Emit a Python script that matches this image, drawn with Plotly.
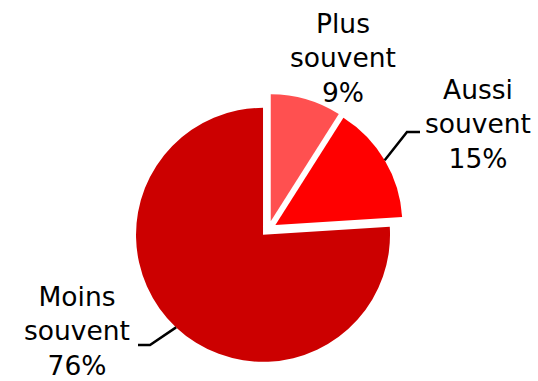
import math
import plotly.graph_objects as go

# Survey answers and their shares (%)
labels = ["Plus<br>souvent", "Aussi<br>souvent", "Moins<br>souvent"]
values = [9, 15, 76]
colors = ["#FF5050", "#FF0000", "#CC0000"]

W, H = 538, 381
PULL = 0.063
CX, CY = 268.5, 229.0  # pie centre in pixels (from top-left)
SIZE = 270.0           # side of the square pie box in pixels

dom_x = [(CX - SIZE / 2) / W, (CX + SIZE / 2) / W]
dom_y = [1 - (CY + SIZE / 2) / H, 1 - (CY - SIZE / 2) / H]
R = SIZE / (2 + 2 * PULL)


def px(x, y):
    return x / W, 1 - y / H


fig = go.Figure(go.Pie(
    labels=labels,
    values=values,
    sort=False,
    direction="clockwise",
    rotation=0,
    pull=[PULL] * len(values),
    marker=dict(colors=colors, line=dict(width=0)),
    textinfo="none",
    hoverinfo="label+percent",
    domain=dict(x=dom_x, y=dom_y),
    showlegend=False,
))

# Label text placement (pixel centres) and leader-line elbows
label_pos = [(343, 58), (478, 124), (77, 331)]
elbows = [None, ((407, 132), (420, 132)), ((150, 345), (138, 345))]

total = sum(values)
annotations = []
shapes = []
start = 0.0
for lab, v, pos, elb in zip(labels, values, label_pos, elbows):
    mid = (start + v / 2) / total * 2 * math.pi
    start += v
    dx, dy = math.sin(mid), -math.cos(mid)
    ox, oy = CX + PULL * R * dx, CY + PULL * R * dy
    ax, ay = ox + R * dx, oy + R * dy
    pct = round(v / total * 100)
    x, y = px(*pos)
    annotations.append(dict(
        x=x, y=y, xref="paper", yref="paper",
        text=f"{lab}<br>{pct}%", showarrow=False,
        align="center", xanchor="center", yanchor="middle",
        font=dict(family="DejaVu Sans", size=26.5, color="#000000"),
    ))
    if elb:
        p0 = px(ax, ay)
        p1 = px(*elb[0])
        p2 = px(*elb[1])
        shapes.append(dict(
            type="path", xref="paper", yref="paper",
            path=f"M {p0[0]},{p0[1]} L {p1[0]},{p1[1]} L {p2[0]},{p2[1]}",
            line=dict(color="#000000", width=2.5),
        ))

fig.update_layout(
    width=W, height=H,
    margin=dict(l=0, r=0, t=0, b=0),
    paper_bgcolor="white",
    plot_bgcolor="white",
    annotations=annotations,
    shapes=shapes,
)

fig.write_html("out.html")
